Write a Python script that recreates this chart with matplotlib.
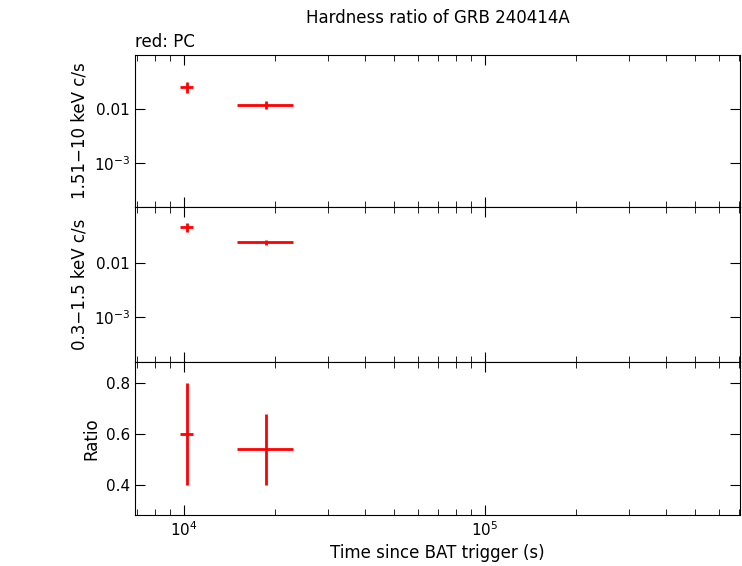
import matplotlib.pyplot as plt
import numpy as np
from matplotlib.ticker import NullLocator

T = [1.02e4, 1.87e4]
T_LO = [0.97e4, 1.5e4]
T_HI = [1.07e4, 2.3e4]
HARD = [0.0256, 0.0119]
HARD_ERR = [0.0055, 0.002]
SOFT = [0.0464, 0.0245]
SOFT_ERR = [0.009, 0.0025]
RATIO = [0.60, 0.54]
RATIO_LO = [0.40, 0.40]
RATIO_HI = [0.80, 0.68]

fig = plt.figure(figsize=(7.42, 5.66), dpi=100)
W, H = 742, 566
left, right = 135 / W, 740 / W
panels = [(55, 207), (207, 362), (362, 515)]
axes = [fig.add_axes([left, 1 - b / H, right - left, (b - t) / H]) for t, b in panels]

t = np.array(T)
xerr = [t - np.array(T_LO), np.array(T_HI) - t]
kw = dict(fmt="none", ecolor="red", elinewidth=2, capsize=0)

axes[0].errorbar(T, HARD, xerr=xerr, yerr=HARD_ERR, **kw)
axes[0].set_yscale("log")
axes[0].set_ylim(1.53e-4, 0.1)
axes[0].set_ylabel("1.51\u221210 keV c/s")

axes[1].errorbar(T, SOFT, xerr=xerr, yerr=SOFT_ERR, **kw)
axes[1].set_yscale("log")
axes[1].set_ylim(1.47e-4, 0.109)
axes[1].set_ylabel("0.3\u22121.5 keV c/s")

r = np.array(RATIO)
axes[2].errorbar(T, RATIO, xerr=xerr, yerr=[r - np.array(RATIO_LO), np.array(RATIO_HI) - r], **kw)
axes[2].set_ylim(0.282, 0.882)
axes[2].set_yticks([0.4, 0.6, 0.8])
axes[2].set_ylabel("Ratio")
axes[2].set_xlabel("Time since BAT trigger (s)", fontsize=12)

for i, ax in enumerate(axes):
    ax.set_xscale("log")
    ax.set_xlim(6870, 7.03e5)
    ax.tick_params(which="both", direction="in", top=True, right=True, labelsize=11)
    ax.tick_params(which="major", length=7)
    ax.tick_params(which="minor", length=4)
    ax.yaxis.label.set_size(12)
    if i < 2:
        ax.set_yticks([1e-3, 1e-2])
        ax.set_yticklabels(["$10^{-3}$", "0.01"])
        ax.yaxis.set_minor_locator(NullLocator())
        ax.tick_params(labelbottom=False)
    else:
        ax.set_xticks([1e4, 1e5])
        ax.set_xticklabels(["$10^4$", "$10^5$"])

fig.text(0.5 * (left + right), 1 - 18 / H, "Hardness ratio of GRB 240414A", ha="center", va="center", fontsize=12)
fig.text(left, 1 - 42 / H, "red: PC", ha="left", va="center", fontsize=12)
fig.savefig("out.png", dpi=100)
